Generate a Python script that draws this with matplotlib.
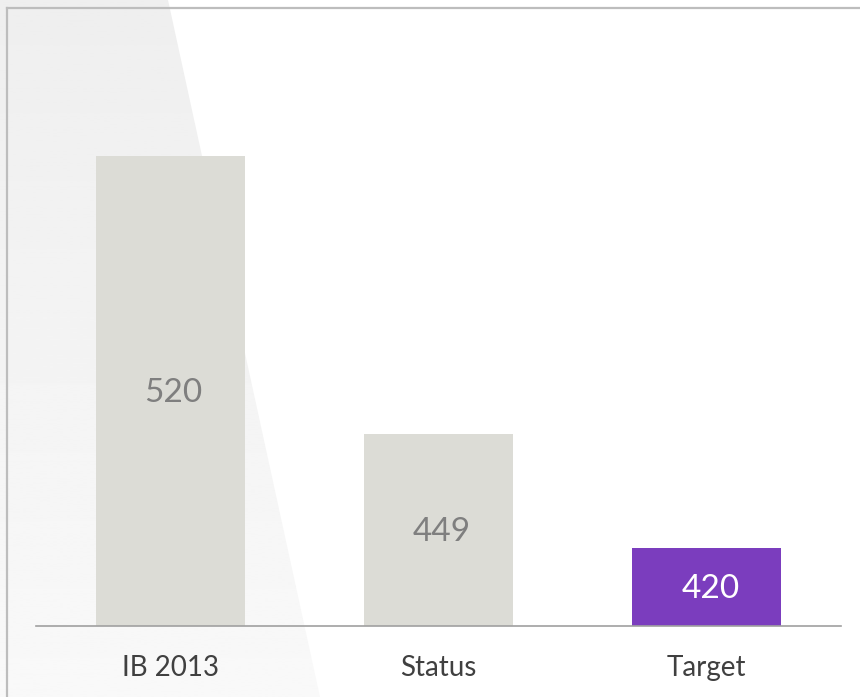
import matplotlib.pyplot as plt
import numpy as np
from matplotlib.patches import Polygon
from matplotlib.lines import Line2D
from matplotlib.transforms import offset_copy

plt.rcParams['font.family'] = ['Lato', 'DejaVu Sans']

# 数据
categories = ['IB 2013', 'Status', 'Target']
values = [520, 449, 420]
bar_colors = ['#DCDCD6', '#DCDCD6', '#7B3DBE']
label_colors = ['#7F7F7F', '#7F7F7F', '#FFFFFF']

W, H = 860, 697
fig = plt.figure(figsize=(W / 100, H / 100), dpi=100)

# 背景渐变三角形
bg = fig.add_axes([0, 0, 1, 1])
bg.set_xlim(0, W)
bg.set_ylim(H, 0)
bg.axis('off')
grad = np.linspace(0.935, 0.975, 256).reshape(-1, 1)
im = bg.imshow(grad, cmap='gray', vmin=0, vmax=1, extent=[0, W, H, 0], aspect='auto')
poly = Polygon([(0, 0), (168, 0), (320, H), (0, H)], closed=True, transform=bg.transData,
               facecolor='none', edgecolor='none')
bg.add_patch(poly)
im.set_clip_path(poly)

# 边框（左、上）
bg.add_line(Line2D([7, 7], [8, H], color='#BDBDBD', linewidth=1.6))
bg.add_line(Line2D([7, W], [8, 8], color='#BDBDBD', linewidth=1.6))

# 柱状图
top_px, base_px = 30, 626
ax = fig.add_axes([36 / W, 1 - base_px / H, (841 - 36) / W, (base_px - top_px) / H])
ax.patch.set_alpha(0)
x = np.arange(len(categories))
ax.bar(x, np.array(values) - 400, bottom=400, width=0.556, color=bar_colors)
ax.set_xlim(-0.5, 2.5)
ax.set_ylim(400, 400 + (base_px - top_px) / 3.92)

trans = offset_copy(ax.transData, fig=fig, x=3.5, y=-2, units='dots')
for xi, v, c in zip(x, values, label_colors):
    ax.text(xi, (400 + v) / 2, str(v), ha='center', va='center', fontsize=24, color=c,
            transform=trans)

for s in ['top', 'right', 'left']:
    ax.spines[s].set_visible(False)
ax.spines['bottom'].set_color('#A0A0A0')
ax.spines['bottom'].set_linewidth(1.2)
ax.set_yticks([])
ax.set_xticks(x)
ax.set_xticklabels(categories, fontsize=20, color='#404040')
ax.tick_params(axis='x', length=0, pad=21)

plt.savefig('out.png', dpi=100)
